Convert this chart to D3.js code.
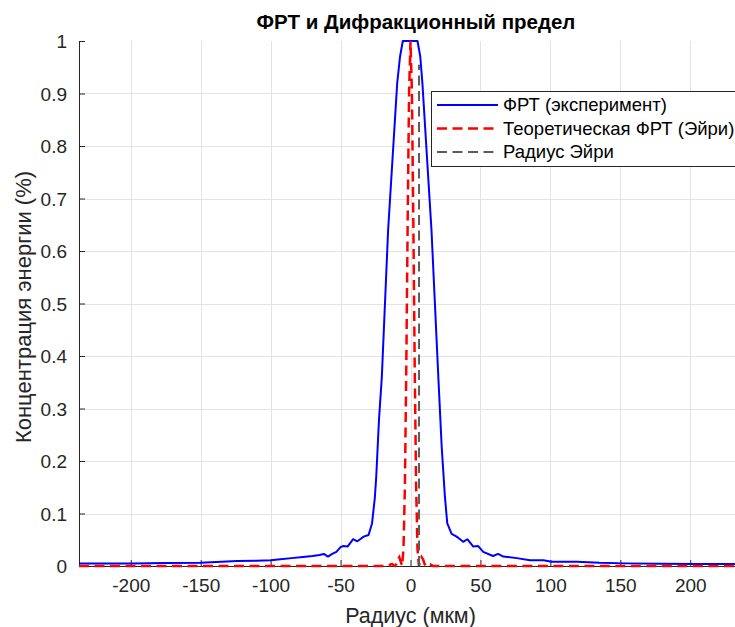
<!DOCTYPE html>
<html>
<head>
<meta charset="utf-8">
<script src="https://cdn.jsdelivr.net/npm/d3@7"></script>
<style>
  html, body { margin: 0; padding: 0; background: #fff; overflow: hidden; }
  text { font-family: "Liberation Sans", Arial, Helvetica, sans-serif; }
</style>
</head>
<body>
<svg id="chart" width="735" height="627"></svg>
<script>
// experimental PSF (radius in µm, normalized value)
const psfR = [-237, -200, -175, -150, -124, -110, -100, -93, -85, -77, -70, -65, -62, -59, -56, -53, -50, -48, -45, -41, -38, -36, -33.5, -30, -27.5, -25.5, -24.5, -22.5, -20.5, -16, -9.5, -7.5, -5.5,
  5, 7, 8.5, 15, 20, 22.3, 24.6, 26.3, 29.4, 33, 35.4, 37.7, 40.6, 44.9, 48.4, 52, 59, 62.7, 66.3, 76, 85.4, 95, 101, 119, 135, 154, 178, 202, 237];
const psfV = [0.005, 0.005, 0.0055, 0.006, 0.0095, 0.010, 0.011, 0.013, 0.015, 0.017, 0.019, 0.021, 0.023, 0.018, 0.023, 0.027, 0.036, 0.038, 0.037, 0.051, 0.047, 0.051, 0.056, 0.059, 0.081, 0.13, 0.17, 0.28, 0.36, 0.64, 0.92, 0.97, 1,
  1, 0.97, 0.92, 0.64, 0.354, 0.227, 0.132, 0.081, 0.061, 0.056, 0.051, 0.046, 0.051, 0.037, 0.038, 0.027, 0.019, 0.023, 0.018, 0.015, 0.011, 0.011, 0.008, 0.008, 0.006, 0.005, 0.0045, 0.004, 0.004];

// theoretical Airy PSF
const airyR = [-237, -20, -16, -15, -14, -13, -12, -11, -10, -9, -8, -7, -6, -5, -4, -3, -2, -1, 0,
  1, 2, 3, 4, 5, 6, 7, 8, 9, 10, 11, 12, 13, 14, 15, 16, 20, 237];
const airyV = [0, 0, 0.0001, 0.0015, 0.0035, 0.0038, 0.0013, 0.0001, 0.0045, 0.0128, 0.017, 0.0085, 0.0001, 0.033, 0.155, 0.381, 0.664, 0.905, 1,
  0.905, 0.664, 0.381, 0.155, 0.033, 0.0001, 0.0085, 0.017, 0.0128, 0.0045, 0.0001, 0.0013, 0.0038, 0.0035, 0.0015, 0.0001, 0, 0];

const airyRadius = 6.1;
const airyLineTop = 0.955;

const xTicks = [-200, -150, -100, -50, 0, 50, 100, 150, 200];
const yTicks = [0, 0.1, 0.2, 0.3, 0.4, 0.5, 0.6, 0.7, 0.8, 0.9, 1];
const legendLabels = ["ФРТ (эксперимент)", "Теоретическая ФРТ (Эйри)", "Радиус Эйри"];

const svg = d3.select("#chart");
const plotLeft = 79, plotRight = 742, plotTop = 41, plotBottom = 566;
const axisColor = "#262626";

const x = d3.scaleLinear().domain([-237, 237]).range([plotLeft, plotRight]);
const y = d3.scaleLinear().domain([0, 1]).range([plotBottom, plotTop]);

// grid
const grid = svg.append("g").attr("stroke", "#e3e3e3").attr("stroke-width", 1);
grid.selectAll("line.gx").data(xTicks).join("line")
  .attr("x1", d => Math.round(x(d)) + 0.5).attr("x2", d => Math.round(x(d)) + 0.5)
  .attr("y1", plotTop).attr("y2", plotBottom);
grid.selectAll("line.gy").data(yTicks.filter(d => d > 0 && d < 1)).join("line")
  .attr("x1", plotLeft).attr("x2", plotRight)
  .attr("y1", d => Math.round(y(d)) + 0.5).attr("y2", d => Math.round(y(d)) + 0.5);

// axes (plain hyphen for negatives, like the original)
const fmt = d => String(d);
const xAxis = d3.axisBottom(x).tickValues(xTicks).tickSizeInner(-6).tickSizeOuter(0).tickPadding(13).tickFormat(fmt);
const yAxis = d3.axisLeft(y).tickValues(yTicks).tickSizeInner(-6).tickSizeOuter(0).tickPadding(12).tickFormat(fmt);

const gx = svg.append("g").attr("transform", `translate(0,${plotBottom})`).call(xAxis);
const gy = svg.append("g").attr("transform", `translate(${plotLeft},0)`).call(yAxis);
[gx, gy].forEach(g => {
  g.select(".domain").attr("stroke", axisColor);
  g.selectAll(".tick line").attr("stroke", axisColor);
  g.selectAll(".tick text").attr("fill", axisColor).style("font-size", "19px")
    .style("font-family", '"Liberation Sans", Arial, sans-serif');
});
gy.selectAll(".tick text").attr("dy", "0.35em");

// curves
const line = d3.line().x(d => x(d[0])).y(d => y(d[1]));

svg.append("path")
  .datum(psfR.map((r, i) => [r, psfV[i]]))
  .attr("d", line)
  .attr("fill", "none").attr("stroke", "#0000ff").attr("stroke-width", 2)
  .attr("stroke-linejoin", "round");

svg.append("path")
  .datum(airyR.map((r, i) => [r, airyV[i]]))
  .attr("d", line)
  .attr("fill", "none").attr("stroke", "#ff0000").attr("stroke-width", 2.5)
  .attr("stroke-dasharray", "10,5.5");

svg.append("line")
  .attr("x1", x(airyRadius)).attr("x2", x(airyRadius))
  .attr("y1", y(0)).attr("y2", y(airyLineTop))
  .attr("stroke", "#5c5c5c").attr("stroke-width", 2)
  .attr("stroke-dasharray", "10,5.5");

// title and labels
svg.append("text")
  .attr("x", 416).attr("y", 29)
  .attr("text-anchor", "middle")
  .style("font-size", "20.5px").style("font-weight", "bold").attr("fill", "#000")
  .text("ФРТ и Дифракционный предел");

svg.append("text")
  .attr("x", (plotLeft + plotRight) / 2).attr("y", 623)
  .attr("text-anchor", "middle")
  .style("font-size", "21.5px").attr("fill", axisColor)
  .text("Радиус (мкм)");

svg.append("text")
  .attr("transform", `translate(31,307) rotate(-90)`)
  .attr("text-anchor", "middle")
  .style("font-size", "22px").attr("fill", axisColor)
  .text("Концентрация энергии (%)");

// legend
const legend = svg.append("g");
legend.append("rect")
  .attr("x", 431.5).attr("y", 91.5).attr("width", 330).attr("height", 75)
  .attr("fill", "#fff").attr("stroke", axisColor).attr("stroke-width", 1);

const legendStyles = [
  { color: "#0000ff", width: 2, dash: null },
  { color: "#ff0000", width: 2.5, dash: "10,5.5" },
  { color: "#5c5c5c", width: 2, dash: "10,5.5" }
];
const rowY = [105, 128.5, 152];

legendLabels.forEach((label, i) => {
  const s = legendStyles[i];
  legend.append("line")
    .attr("x1", 437).attr("x2", 498).attr("y1", rowY[i]).attr("y2", rowY[i])
    .attr("stroke", s.color).attr("stroke-width", s.width)
    .attr("stroke-dasharray", s.dash);
  legend.append("text")
    .attr("x", 503).attr("y", rowY[i]).attr("dy", "0.35em")
    .style("font-size", "18.5px").attr("fill", "#000")
    .text(label);
});
</script>
</body>
</html>
